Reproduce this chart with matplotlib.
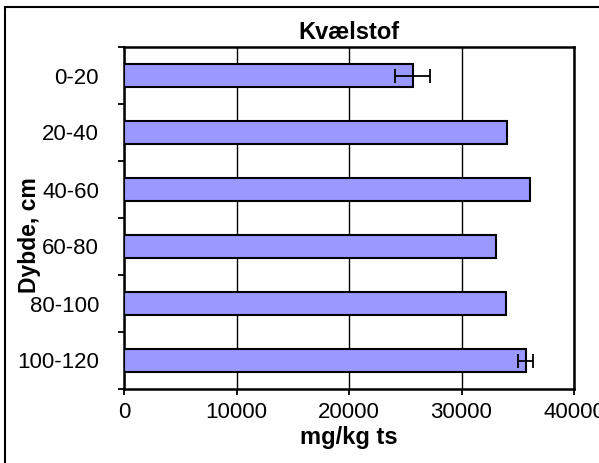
import numpy as np
import matplotlib.pyplot as plt
from matplotlib.patches import Rectangle

depths = ["0-20", "20-40", "40-60", "60-80", "80-100", "100-120"]
nitrogen = [25650, 34000, 36100, 33080, 33960, 35700]
errors = [1530, 0, 0, 0, 0, 670]

plt.rcParams["font.family"] = ["Liberation Sans", "DejaVu Sans"]

fig = plt.figure(figsize=(5.99, 4.63), dpi=100)
ax = fig.add_axes([124 / 599, 1 - 389 / 463, 450 / 599, 342 / 463])

y = np.arange(len(depths))
err = [e if e > 0 else np.nan for e in errors]
ax.barh(y, nitrogen, height=0.41, color="#9999FF", edgecolor="black", linewidth=1.5, zorder=3)
ax.errorbar(nitrogen, y, xerr=err, fmt="none", ecolor="black", elinewidth=1.3,
            capsize=5, capthick=1.3, zorder=4)

ax.set_xlim(0, 40000)
ax.set_ylim(len(depths) - 0.5, -0.5)
ax.set_xticks([0, 10000, 20000, 30000, 40000])
ax.set_yticks(y)
ax.set_yticklabels(depths)
ax.set_yticks(np.arange(-0.5, len(depths)), minor=True)
ax.tick_params(axis="y", which="major", length=0, labelsize=16, pad=18)
ax.tick_params(axis="y", which="minor", length=4.5, width=1.3, direction="out")
ax.tick_params(axis="x", length=4.5, width=1.3, direction="out", labelsize=16, pad=5)

ax.grid(axis="x", color="black", linewidth=1, zorder=0)
for s in ax.spines.values():
    s.set_linewidth(1.8)

ax.set_title("Kvælstof", fontsize=17, fontweight="bold", pad=6)
ax.set_xlabel("mg/kg ts", fontsize=17, fontweight="bold")
ax.xaxis.set_label_coords(0.5, -0.108)
ax.set_ylabel("Dybde, cm", fontsize=16.5, fontweight="bold", va="center")
ax.yaxis.set_label_coords(-0.209, 0.45)

fig.patches.append(Rectangle((5 / 599, -0.1), 1.2, 1 - 7 / 463 + 0.1, transform=fig.transFigure,
                             fill=False, edgecolor="black", linewidth=1.5))

fig.savefig("out.png", dpi=100)
